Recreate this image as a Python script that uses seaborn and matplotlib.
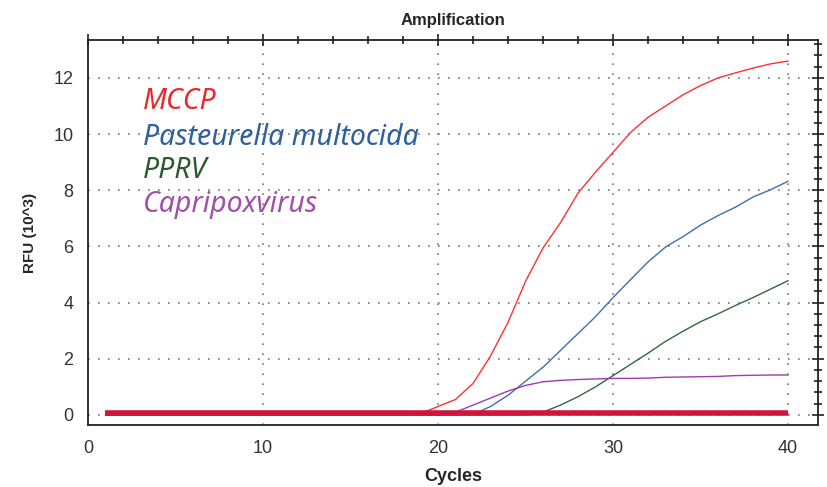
import numpy as np
import pandas as pd
import matplotlib
matplotlib.use("Agg")
import matplotlib.pyplot as plt
import seaborn as sns
from matplotlib.ticker import MultipleLocator

cycles = list(range(1, 41))

mccp = [0]*18 + [0.05, 0.30, 0.55, 1.12, 2.10, 3.30, 4.76, 5.95, 6.85, 7.90,
                 8.65, 9.35, 10.06, 10.60, 11.00, 11.40, 11.73, 12.00, 12.18, 12.35,
                 12.50, 12.60]
pasteurella = [0]*21 + [0.02, 0.30, 0.70, 1.20, 1.70, 2.30, 2.90, 3.50, 4.18,
                        4.82, 5.45, 5.98, 6.35, 6.76, 7.10, 7.40, 7.76, 8.02, 8.32]
pprv = [0]*25 + [0.10, 0.35, 0.65, 1.00, 1.40, 1.80, 2.20, 2.62, 2.98, 3.32,
                 3.60, 3.90, 4.18, 4.48, 4.78]
capripox = [0]*20 + [0.10, 0.35, 0.60, 0.85, 1.05, 1.18, 1.23, 1.26, 1.28, 1.30,
                     1.30, 1.31, 1.34, 1.35, 1.36, 1.37, 1.40, 1.41, 1.42, 1.42]
baseline = [0.05]*40

series_names = ["MCCP", "Pasteurella multocida", "PPRV", "Capripoxvirus"]
line_colors = ["#ff3030", "#3f6fae", "#2f6a3a", "#9a3db0"]
text_colors = ["#e8282a", "#2f5f9e", "#2d5a2d", "#a050a8"]

df = pd.DataFrame({
    "Cycle": cycles * 4,
    "RFU": mccp + pasteurella + pprv + capripox,
    "Target": sum([[n]*40 for n in series_names], []),
})
df_base = pd.DataFrame({"Cycle": cycles, "RFU": baseline})

sns.set_style("white")
plt.rcParams['font.family'] = ['Liberation Sans Narrow', 'Liberation Sans', 'DejaVu Sans']

fig = plt.figure(figsize=(8.27, 4.87), dpi=100)
ax = fig.add_axes([0.1064, 0.1273, 0.8826, 0.7906])

sns.lineplot(data=df, x="Cycle", y="RFU", hue="Target", hue_order=series_names,
             palette=dict(zip(series_names, line_colors)), linewidth=1.0,
             legend=False, ax=ax, zorder=3)
sns.lineplot(data=df_base, x="Cycle", y="RFU", color="#d0143c", linewidth=4.0,
             legend=False, ax=ax, zorder=4, solid_capstyle="butt")

ax.set_xlim(0, 41.7)
ax.set_ylim(-0.36, 13.35)
ax.xaxis.set_major_locator(MultipleLocator(10))
ax.xaxis.set_minor_locator(MultipleLocator(2))
ax.yaxis.set_major_locator(MultipleLocator(2))
ax.yaxis.set_minor_locator(MultipleLocator(0.4))
ax.tick_params(which="both", direction="inout", top=True, right=True,
               color="#222222", width=1.2)
ax.tick_params(which="major", length=9, labelsize=13, labelcolor="#333333", pad=6)
ax.tick_params(which="minor", length=6)
ax.tick_params(axis="x", which="major", labeltop=False)
ax.tick_params(axis="y", which="major", labelright=False)

ax.grid(True, which="major", color="#777777", linestyle=(0, (1, 5)), linewidth=1.2)
for s in ax.spines.values():
    s.set_color("#222222")
    s.set_linewidth(1.3)

ax.set_title("Amplification", fontsize=12, fontweight="bold", pad=11)
ax.set_xlabel("Cycles", fontsize=13, fontweight="bold", labelpad=8)
ax.set_ylabel("RFU (10^3)", fontsize=11, fontweight="bold", labelpad=12)

ys = [0.839, 0.748, 0.662, 0.574]
for name, c, y in zip(series_names, text_colors, ys):
    ax.text(0.075, y, name, transform=ax.transAxes, color=c, fontsize=20.5,
            fontstyle="italic", family=["Noto Sans", "DejaVu Sans"], va="center")

fig.savefig("out.png", dpi=100)
